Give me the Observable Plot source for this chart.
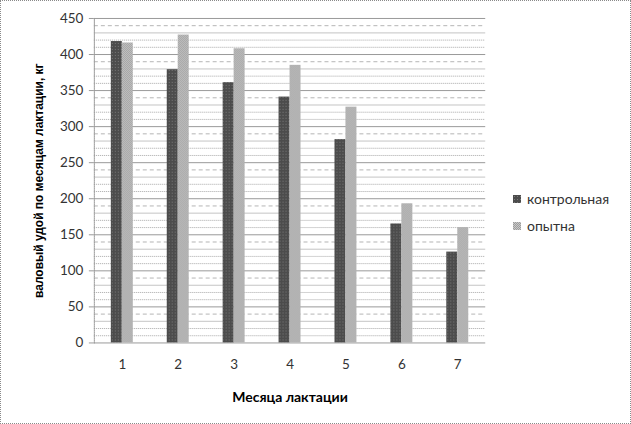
<!DOCTYPE html>
<html>
<head>
<meta charset="utf-8">
<script src="https://cdn.jsdelivr.net/npm/d3@7"></script>
<script src="https://cdn.jsdelivr.net/npm/@observablehq/plot@0.6"></script>
<style>
  html, body { margin: 0; padding: 0; background: #fff; }
  #wrap { position: relative; width: 629px; height: 422px; border: 1px dotted #8a8a8a; overflow: hidden; font-family: Lato, "Open Sans", sans-serif; }
  #chart { position: absolute; left: -1px; top: -1px; }
  #legend { position: absolute; left: 512px; top: 184px; font-size: 14px; color: #333; }
  #legend .item { display: flex; align-items: center; height: 27px; }
  #legend svg { margin-right: 6px; }
</style>
</head>
<body>
<svg width="0" height="0" style="position:absolute">
  <defs>
    <pattern id="pCtrl" width="3" height="3" patternUnits="userSpaceOnUse">
      <rect width="3" height="3" fill="#4c4c4c"></rect>
      <rect x="1" y="1" width="1" height="1" fill="#7a7a7a"></rect>
    </pattern>
    <pattern id="pExp" width="2" height="2" patternUnits="userSpaceOnUse">
      <rect width="2" height="2" fill="#c9c9c9"></rect>
      <rect x="0" y="0" width="1" height="1" fill="#9c9c9c"></rect>
      <rect x="1" y="1" width="1" height="1" fill="#9c9c9c"></rect>
    </pattern>
  </defs>
</svg>
<div id="wrap">
  <div id="chart"></div>
  <div id="legend"></div>
</div>
<script>
const months = [1, 2, 3, 4, 5, 6, 7];
const seriesNames = ["контрольная", "опытна"];
const control = [418, 379, 361, 341, 282, 165, 126];
const experimental = [416, 427, 408, 385, 327, 193, 160];
const yTicks = [0, 50, 100, 150, 200, 250, 300, 350, 400, 450];
const yLabel = "валовый удой по месяцам лактации, кг";
const xLabel = "Месяца лактации";

const ctrlData = months.map((m, i) => ({month: m, value: control[i]}));
const expData = months.map((m, i) => ({month: m, value: experimental[i]}));

const grid = d3.range(0, 451, 10);
const gMajor = grid.filter(v => v % 50 === 0);
const gLight = grid.filter(v => v % 50 === 30);
const gDash = grid.filter(v => v % 50 === 40);
const gDot = grid.filter(v => v % 50 === 10 || v % 50 === 20);

const chart = Plot.plot({
  width: 631,
  height: 424,
  marginLeft: 94,
  marginRight: 145,
  marginTop: 18,
  marginBottom: 81,
  style: {fontFamily: "Lato, 'Open Sans', sans-serif", color: "#333", background: "transparent"},
  x: {type: "band", domain: months, paddingInner: 0.61, paddingOuter: 0.305},
  y: {domain: [0, 450]},
  marks: [
    Plot.ruleY(gDot, {stroke: "#a8a8a8", strokeDasharray: "1,1"}),
    Plot.ruleY(gDash, {stroke: "#b5b5b5", strokeDasharray: "4,3"}),
    Plot.ruleY(gLight, {stroke: "#c4c4c4"}),
    Plot.ruleY(gMajor, {stroke: "#9a9a9a"}),
    Plot.frame({anchor: "left", stroke: "#9a9a9a", strokeDasharray: "1,1"}),
    Plot.barY(ctrlData, {x: "month", y: "value", fill: "url(#pCtrl)", insetRight: 11}),
    Plot.barY(expData, {x: "month", y: "value", fill: "url(#pExp)", insetLeft: 11}),
    Plot.axisY({ticks: yTicks, tickSize: 5, tickPadding: 6, fontSize: 13.5, stroke: "#9a9a9a", label: null}),
    Plot.axisY({ticks: [], label: yLabel, labelAnchor: "center", labelArrow: "none", labelOffset: 60, fontSize: 12, fontWeight: "bold", fill: "#000", fontFamily: "'Liberation Sans', Arial, sans-serif"}),
    Plot.axisX({tickSize: 0, tickPadding: 17, fontSize: 13.5, label: null}),
    Plot.axisX({ticks: [], label: xLabel, labelAnchor: "center", labelArrow: "none", labelOffset: 59, fontSize: 14, fontWeight: "bold", fill: "#000"})
  ]
});
document.getElementById("chart").appendChild(chart);

const legend = document.getElementById("legend");
const fills = ["url(#pCtrl)", "url(#pExp)"];
seriesNames.forEach((name, i) => {
  const item = document.createElement("div");
  item.className = "item";
  item.innerHTML = `<svg width="8" height="8"><rect width="8" height="8" fill="${fills[i]}"></rect></svg><span>${name}</span>`;
  legend.appendChild(item);
});
</script>
</body>
</html>
